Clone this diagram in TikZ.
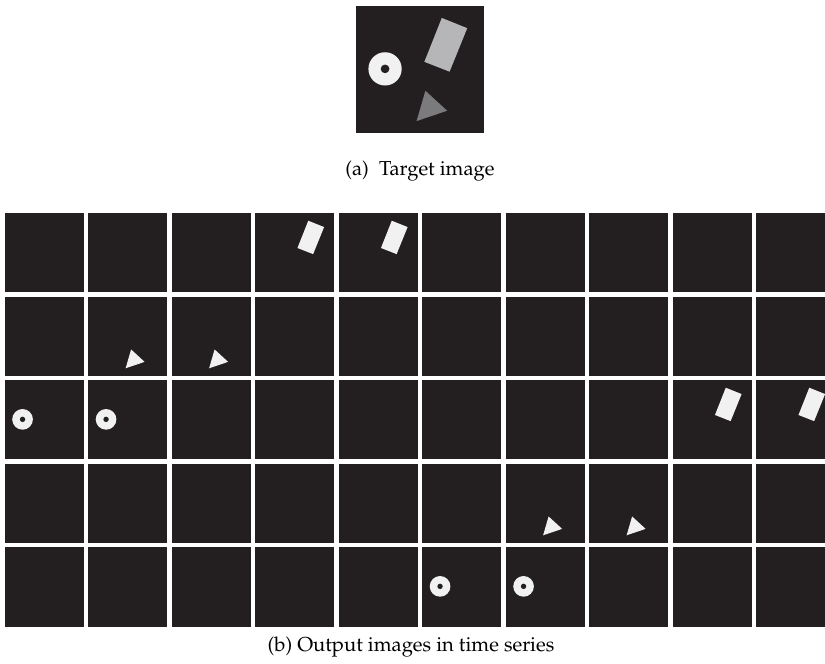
\documentclass[tikz,border=0pt]{standalone}
\usepackage[T1]{fontenc}
\usepackage{mathpazo}
\usepackage{xcolor}
\usepackage{tikz}
\usetikzlibrary{positioning,calc}

\definecolor{bgdark}{HTML}{231F20}
\definecolor{objwhite}{HTML}{F1F1F2}
\definecolor{rectgray}{HTML}{B6B6B9}
\definecolor{trigray}{HTML}{7B7B7E}

\begin{document}
\begin{tikzpicture}[x=0.02cm,y=-0.02cm,font=\fontsize{11.5}{13}\selectfont,
    cell/.style={fill=bgdark,draw=none,inner sep=0pt,outer sep=0pt,minimum size=1.59cm},
    ring/.pic={\fill[pic actions] (0.227,0.495) circle (0.13);
               \fill[bgdark] (0.227,0.495) circle (0.034);},
    block/.pic={\fill[pic actions] (0.67,0.097)--(0.869,0.177)--(0.731,0.517)--(0.534,0.44)--cycle;},
    wedge/.pic={\fill[pic actions] (0.542,0.666)--(0.712,0.822)--(0.473,0.903)--cycle;}]
  \useasboundingbox (0,0) rectangle (825,663);
  \clip (0,0) rectangle (825,663);
  % target image
  \node[cell,minimum size=2.56cm] (target) at (420,69.5) {};
  \pic[scale=128,objwhite] at (target.north west) {ring};
  \pic[scale=128,rectgray] at (target.north west) {block};
  \pic[scale=128,trigray] at (target.north west) {wedge};
  \node (capa) at (420,171) {(a)\ \ Target image};
  % output images, 5 rows x 10 columns
  \foreach \r in {0,...,4}
    \foreach \c in {0,...,9}
      \node[cell] (c-\r-\c) at ({44.25+83.5*\c},{252.75+83.5*\r}) {};
  \foreach \r/\c in {0/3,0/4,2/8,2/9}
    \pic[scale=79.5,objwhite] at (c-\r-\c.north west) {block};
  \foreach \r/\c in {1/1,1/2,3/6,3/7}
    \pic[scale=79.5,objwhite] at (c-\r-\c.north west) {wedge};
  \foreach \r/\c in {2/0,2/1,4/5,4/6}
    \pic[scale=79.5,objwhite] at (c-\r-\c.north west) {ring};
  \node (capb) at (411,647) {(b)\ Output images in time series};
\end{tikzpicture}
\end{document}
